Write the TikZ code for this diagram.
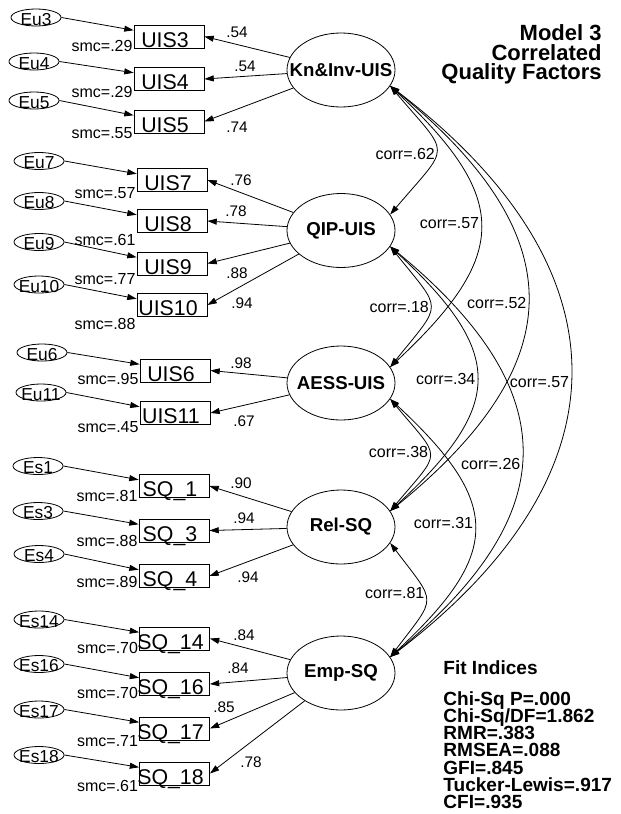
\documentclass[tikz,border=0pt]{standalone}
\usepackage{fontspec}
\setmainfont{Liberation Sans}
\usetikzlibrary{arrows.meta,shapes.geometric}
\newcommand{\zw}[1]{\makebox[0pt]{#1}}
\newcommand{\ztx}[1]{\makebox[0pt]{\raisebox{-5.7pt}[0pt][0pt]{#1}}}
\newcommand{\tightls}{\lineskiplimit=-20pt\relax}
\begin{document}
\begin{tikzpicture}[x=0.75pt,y=-0.75pt,
  >={Triangle[length=7pt,width=4.5pt]},
  line width=0.6pt,
  obs/.style={draw, rectangle, minimum width=52.5pt, minimum height=17.25pt, inner sep=0pt,
    text height=15.8pt, text depth=0pt, font=\fontsize{16pt}{18pt}\selectfont,
    execute at begin node={\hspace*{-6pt}}},
  latent/.style={draw, ellipse, minimum width=81pt, minimum height=55.5pt, inner sep=0pt,
    font=\bfseries\fontsize{14pt}{16pt}\selectfont},
  err/.style={draw, ellipse, minimum width=37.5pt, minimum height=12.75pt, inner sep=0pt,
    font=\fontsize{13pt}{14pt}\selectfont},
  lab/.style={font=\fontsize{12pt}{14pt}\selectfont, inner sep=0pt},
  ld/.style={font=\fontsize{11.5pt}{14pt}\selectfont, inner sep=0pt},
  smc/.style={lab, anchor=base east, xshift=-0.5pt},
  cov/.style={<->},
  corr/.style={lab, pos=0.5, anchor=east, xshift=-0.5pt}
]
\useasboundingbox (0,0) rectangle (621,814);

% latent factors
\node[latent] (kn)   at (341,70)    {\zw{Kn\&Inv-UIS}};
\node[latent] (qip)  at (341,230.5) {\zw{QIP-UIS}};
\node[latent] (aess) at (341,383)   {\zw{AESS-UIS}};
\node[latent] (rel)  at (341,527)   {\zw{Rel-SQ}};
\node[latent] (emp)  at (341,673)   {\zw{Emp-SQ}};

% observed variables
\node[obs] (uis3)  at (169,36.5)  {UIS3};
\node[obs] (uis4)  at (169,79)    {UIS4};
\node[obs] (uis5)  at (169,121.5) {UIS5};
\node[obs] (uis7)  at (172,180)   {UIS7};
\node[obs] (uis8)  at (172,221)   {UIS8};
\node[obs] (uis9)  at (172,263.5) {UIS9};
\node[obs] (uis10) at (172,305)   {UIS10};
\node[obs] (uis6)  at (175,370.5) {UIS6};
\node[obs] (uis11) at (175,413)   {UIS11};
\node[obs] (sq1)   at (174,486)   {SQ\_1};
\node[obs] (sq3)   at (174,530.5) {SQ\_3};
\node[obs] (sq4)   at (174,576)   {SQ\_4};
\node[obs] (sq14)  at (174.5,638.5) {SQ\_14};
\node[obs] (sq16)  at (174.5,684)   {SQ\_16};
\node[obs] (sq17)  at (174.5,728.5) {SQ\_17};
\node[obs] (sq18)  at (174.5,773.5) {SQ\_18};

% error terms
\node[err] (eu3)  at (36,17.5)  {\ztx{Eu3}};
\node[err] (eu4)  at (34,61.5)  {\ztx{Eu4}};
\node[err] (eu5)  at (34,100.5) {\ztx{Eu5}};
\node[err] (eu7)  at (39,161)   {\ztx{Eu7}};
\node[err] (eu8)  at (39,201)   {\ztx{Eu8}};
\node[err] (eu9)  at (39,242)   {\ztx{Eu9}};
\node[err] (eu10) at (39,284.5) {\ztx{Eu10}};
\node[err] (eu6)  at (42,352.5) {\ztx{Eu6}};
\node[err] (eu11) at (41,392.5) {\ztx{Eu11}};
\node[err] (es1)  at (38,466)   {\ztx{Es1}};
\node[err] (es3)  at (38,511)   {\ztx{Es3}};
\node[err] (es4)  at (39,554)   {\ztx{Es4}};
\node[err] (es14) at (39,619.5) {\ztx{Es14}};
\node[err] (es16) at (39,664)   {\ztx{Es16}};
\node[err] (es17) at (39,709.5) {\ztx{Es17}};
\node[err] (es18) at (39,755)   {\ztx{Es18}};

% error arrows
\foreach \e/\b in {eu3/uis3,eu4/uis4,eu5/uis5,eu7/uis7,eu8/uis8,eu9/uis9,eu10/uis10,
                   eu6/uis6,eu11/uis11,es1/sq1,es3/sq3,es4/sq4,es14/sq14,es16/sq16,es17/sq17,es18/sq18}
  \draw[->] (\e.east) -- (\b.170);

% loadings
\foreach \l/\b in {kn/uis3,kn/uis4,kn/uis5,qip/uis7,qip/uis8,qip/uis9,qip/uis10,
                   aess/uis6,aess/uis11,rel/sq1,rel/sq3,rel/sq4,emp/sq14,emp/sq16,emp/sq17,emp/sq18}
  \draw[->] (\l) -- (\b.east);

% loading labels
\node[ld] (l3)  at (237,32.5) {.54};
\node[ld] (l4)  at (245,66)   {.54};
\node[ld] (l5)  at (237,127.5){.74};
\node[ld] (l7)  at (241,180)  {.76};
\node[ld] (l8)  at (236,211.5){.78};
\node[ld] (l9)  at (237,273)  {.88};
\node[ld] (l10) at (242,303)  {.94};
\node[ld] (l6)  at (241,363)  {.98};
\node[ld] (l11) at (244,421)  {.67};
\node[ld] (ls1) at (241,483.5){.90};
\node[ld] (ls3) at (244,518)  {.94};
\node[ld] (ls4) at (248,577.5){.94};
\node[ld] (ls14) at (244,635) {.84};
\node[ld] (ls16) at (238,668.5){.84};
\node[ld] (ls17) at (224,707.5){.85};
\node[ld] (ls18) at (251,762.5){.78};

% smc labels
\node[smc, yshift=-2.2pt] (s3)  at (uis3.south west)  {smc=.29};
\node[smc, yshift=-5.2pt] (s4)  at (uis4.south west)  {smc=.29};
\node[smc, yshift=-3.8pt] (s5)  at (uis5.south west)  {smc=.55};
\node[smc, yshift=-5.2pt] (s7)  at (uis7.south west)  {smc=.57};
\node[smc, yshift=-9.7pt] (s8)  at (uis8.south west)  {smc=.61};
\node[smc, yshift=-6.8pt] (s9)  at (uis9.south west)  {smc=.77};
\node[smc, yshift=-9.7pt] (s10) at (uis10.south west) {smc=.88};
\node[smc, yshift=-1.5pt] (s6)  at (uis6.south west)  {smc=.95};
\node[smc, yshift=-6pt]   (s11) at (uis11.south west) {smc=.45};
\node[smc, yshift=-3pt]   (ss1) at (sq1.south west)   {smc=.81};
\node[smc, yshift=-3pt]   (ss3) at (sq3.south west)   {smc=.88};
\node[smc, yshift=0pt]    (ss4) at (sq4.south west)   {smc=.89};
\node[smc, yshift=-2.2pt] (ss14) at (sq14.south west) {smc=.70};
\node[smc, yshift=-2.2pt] (ss16) at (sq16.south west) {smc=.70};
\node[smc, yshift=-4.5pt] (ss17) at (sq17.south west) {smc=.71};
\node[smc, yshift=-4.5pt] (ss18) at (sq18.south west) {smc=.61};

% correlations
\draw[cov] (kn.-18) .. controls +(61,72) and +(61,-72) .. (qip.18)
  node[corr, yshift=-3pt] (c1) {corr=.62};
\draw[cov] (kn.-18) .. controls +(120,112) and +(120,-112) .. (aess.18)
  node[corr, yshift=2.5pt] (c2) {corr=.57};
\draw[cov] (kn.-18) .. controls +(183,149) and +(183,-149) .. (rel.18)
  node[corr, yshift=-3pt] (c3) {corr=.52};
\draw[cov] (kn.-18) .. controls +(240,183) and +(240,-183) .. (emp.18)
  node[corr, yshift=-8pt] (c4) {corr=.57};
\draw[cov] (qip.-18) .. controls +(53,66) and +(53,-66) .. (aess.18)
  node[corr] (c5) {corr=.18};
\draw[cov] (qip.-18) .. controls +(115,106) and +(115,-106) .. (rel.18)
  node[corr] (c6) {corr=.34};
\draw[cov] (qip.-18) .. controls +(175,144) and +(175,-144) .. (emp.18)
  node[corr, yshift=-9.5pt] (c7) {corr=.26};
\draw[cov] (aess.-18) .. controls +(52,62) and +(52,-62) .. (rel.18)
  node[corr, yshift=2pt] (c8) {corr=.38};
\draw[cov] (aess.-18) .. controls +(112,104) and +(112,-104) .. (emp.18)
  node[corr, yshift=3.5pt] (c9) {corr=.31};
\draw[cov] (rel.-18) .. controls +(47,62) and +(47,-62) .. (emp.18)
  node[corr, yshift=5pt] (c10) {corr=.81};

% title
\node[anchor=north east, align=right, inner sep=0pt,
  font={\bfseries\fontsize{16.5pt}{14.6pt}\selectfont\tightls}] (title) at (602,24.5)
  {Model 3\\Correlated\\Quality Factors};

% fit indices
\node[anchor=north west, align=left, inner sep=0pt,
  font={\bfseries\fontsize{14.3pt}{12.9pt}\selectfont\tightls}] (fit) at (443,660)
  {Fit Indices\\[10.4pt]Chi-Sq P=.000\\Chi-Sq/DF=1.862\\RMR=.383\\RMSEA=.088\\GFI=.845\\Tucker-Lewis=.917\\CFI=.935};
\end{tikzpicture}
\end{document}
